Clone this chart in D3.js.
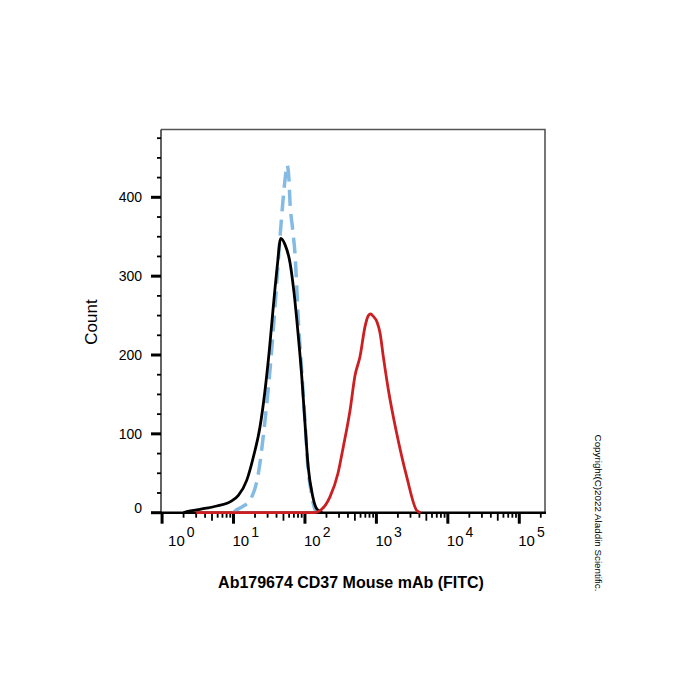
<!DOCTYPE html>
<html>
<head>
<meta charset="utf-8">
<script src="https://cdn.jsdelivr.net/npm/d3@7"></script>
<style>
  body { margin: 0; background: #fff; }
  text { font-family: "Liberation Sans", Arial, sans-serif; fill: #000; }
</style>
</head>
<body>
<div id="chart"></div>
<script>
// fluorescence intensity (FITC) and event counts
var blackX = [2.0, 2.22, 3.4, 5.82, 9.44, 11.7, 15.3, 19.0, 23.5, 27.6, 31.8, 36.1, 41.0, 45.8, 52.6, 61.8, 70.3, 80.7, 90.2, 100, 111, 129, 146, 175];
var blackY = [0, 1.3, 4.3, 8.5, 15, 22, 41, 71, 109, 155, 207, 262, 313, 348, 340, 317, 279, 224, 173, 114, 58, 20, 5, 0];

var blueX = [10.0, 10.5, 13, 17, 22.3, 27.6, 32.4, 38.1, 44.8, 49.3, 53, 56.1, 59.5, 61.8, 67, 72.6, 80.7, 89.9, 100, 111, 121, 132, 145];
var blueY = [0, 2, 7, 16, 50, 117, 181, 261, 350, 396, 425, 441, 425, 393, 361, 328, 244, 181, 117, 54, 29, 10, 0];

var redX = [3, 131, 150, 224, 290, 345, 428, 502, 590, 693, 771, 830, 906, 1020, 1125, 1250, 1470, 1920, 2650, 3660, 4170];
var redY = [0, 0, 1, 20, 50, 84, 130, 174, 198, 236, 250, 252, 249, 242, 228, 198, 156, 101, 46, 3, 0];

var xMajor = [1, 10, 100, 1000, 10000, 100000];
var xExp = ["0", "1", "2", "3", "4", "5"];
var yMajor = [0, 100, 200, 300, 400];

var svgWidth = 700;
var svgHeight = 700;

var plot = { left: 161, right: 545, top: 129.5, bottom: 512.7 };

var svg = d3.select("#chart")
    .append("svg")
    .attr("width", svgWidth)
    .attr("height", svgHeight);

var x = d3.scaleLog()
    .domain([Math.pow(10, -0.015), Math.pow(10, 5.36)])
    .range([plot.left, plot.right]);

var y = d3.scaleLinear()
    .domain([0, 486])
    .range([plot.bottom, plot.top]);

// frame (top and right)
svg.append("path")
    .attr("d", `M${plot.left},${plot.top} H${plot.right} V${plot.bottom}`)
    .attr("fill", "none")
    .attr("stroke", "#555")
    .attr("stroke-width", 1.6);

// left axis line
svg.append("line")
    .attr("x1", plot.left).attr("x2", plot.left)
    .attr("y1", plot.top).attr("y2", plot.bottom)
    .attr("stroke", "#222")
    .attr("stroke-width", 1.4);

// y ticks
var yMinor = d3.range(25, 486, 25).filter(d => d % 100 !== 0);
svg.selectAll(".yminor")
    .data(yMinor)
    .enter()
    .append("line")
    .attr("x1", plot.left - 4).attr("x2", plot.left)
    .attr("y1", d => y(d)).attr("y2", d => y(d))
    .attr("stroke", "#000")
    .attr("stroke-width", 1.8);

svg.selectAll(".ymajor")
    .data(yMajor)
    .enter()
    .append("line")
    .attr("x1", plot.left - 10).attr("x2", plot.left)
    .attr("y1", d => y(d)).attr("y2", d => y(d))
    .attr("stroke", "#000")
    .attr("stroke-width", 3);

svg.selectAll(".ylabel")
    .data(yMajor)
    .enter()
    .append("text")
    .attr("x", 142)
    .attr("y", d => y(d) + (d === 0 ? -5 : 0))
    .attr("dy", "0.35em")
    .attr("text-anchor", "end")
    .attr("font-size", "14px")
    .text(d => d);

// x ticks
var xMinor = [];
for (var e = 0; e <= 5; e++) {
    for (var m = 2; m <= 9; m++) {
        var v = m * Math.pow(10, e);
        if (x(v) <= plot.right) xMinor.push(v);
    }
}

svg.selectAll(".xminor")
    .data(xMinor)
    .enter()
    .append("line")
    .attr("x1", d => x(d)).attr("x2", d => x(d))
    .attr("y1", plot.bottom)
    .attr("y2", d => plot.bottom + (String(d)[0] === "5" ? 8 : 5))
    .attr("stroke", "#000")
    .attr("stroke-width", 1.8);

svg.selectAll(".xmajor")
    .data(xMajor)
    .enter()
    .append("line")
    .attr("x1", d => x(d)).attr("x2", d => x(d))
    .attr("y1", plot.bottom).attr("y2", plot.bottom + 11)
    .attr("stroke", "#000")
    .attr("stroke-width", 3);

// bottom axis line
svg.append("line")
    .attr("x1", plot.left - 1).attr("x2", plot.right + 1)
    .attr("y1", plot.bottom).attr("y2", plot.bottom)
    .attr("stroke", "#000")
    .attr("stroke-width", 2.6);

var xLabels = svg.selectAll(".xlabel")
    .data(xMajor)
    .enter()
    .append("text")
    .attr("x", (d, i) => x(d) + (i === 0 ? 6 : -1))
    .attr("y", 546)
    .attr("font-size", "15px");

xLabels.append("tspan").text("10");
xLabels.append("tspan")
    .attr("dx", "2")
    .attr("dy", "-9")
    .attr("font-size", "14px")
    .text((d, i) => xExp[i]);

// curves
var line = d3.line()
    .x(d => x(d[0]))
    .y(d => y(d[1]))
    .curve(d3.curveMonotoneX);

svg.append("path")
    .datum(d3.zip(blueX, blueY))
    .attr("d", line)
    .attr("fill", "none")
    .attr("stroke", "#84bbe4")
    .attr("stroke-width", 3.5)
    .attr("stroke-dasharray", "16,8");

svg.append("path")
    .datum(d3.zip(blackX, blackY))
    .attr("d", line)
    .attr("fill", "none")
    .attr("stroke", "#000")
    .attr("stroke-width", 2.8);

svg.append("path")
    .datum(d3.zip(redX, redY))
    .attr("d", line)
    .attr("fill", "none")
    .attr("stroke", "#cc1f22")
    .attr("stroke-width", 2.8);

// axis titles
svg.append("text")
    .attr("transform", "translate(97, 322) rotate(-90)")
    .attr("text-anchor", "middle")
    .attr("font-size", "17px")
    .text("Count");

svg.append("text")
    .attr("x", 351)
    .attr("y", 588)
    .attr("text-anchor", "middle")
    .attr("font-size", "16px")
    .attr("font-weight", "bold")
    .text("Ab179674 CD37 Mouse mAb (FITC)");

svg.append("text")
    .attr("transform", "translate(595, 513) rotate(90)")
    .attr("text-anchor", "middle")
    .attr("font-size", "9.8px")
    .attr("fill", "#222")
    .text("Copyright(C)2022 Aladdin Scientific.");
</script>
</body>
</html>
